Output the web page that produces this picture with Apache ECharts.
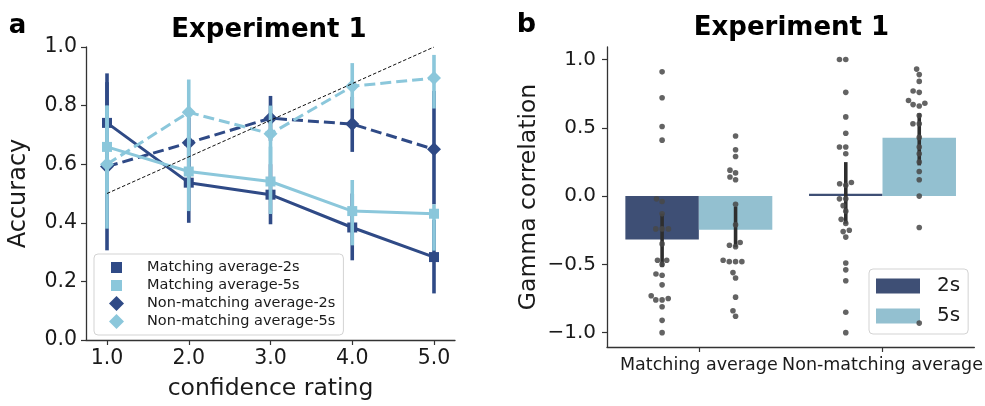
<!DOCTYPE html>
<html><head><meta charset="utf-8">
<script src="https://cdn.jsdelivr.net/npm/echarts@6/dist/echarts.min.js"></script>
<style>html,body{margin:0;padding:0;background:#fff}#c{width:985px;height:406px}</style>
</head><body><div id="c"></div>
<script>
// ---------- panel a data ----------
const confidence = [1, 2, 3, 4, 5];
const xTicksA = [1, 2, 3, 4, 5];
const seriesNamesA = ['Matching average-2s', 'Matching average-5s', 'Non-matching average-2s', 'Non-matching average-5s'];
const match2s      = [0.741, 0.537, 0.496, 0.384, 0.283];
const match2sLo    = [0.57, 0.40, 0.395, 0.272, 0.159];
const match2sHi    = [0.91, 0.68, 0.60, 0.50, 0.41];
const match5s      = [0.659, 0.575, 0.541, 0.440, 0.431];
const match5sLo    = [0.50, 0.44, 0.43, 0.323, 0.305];
const match5sHi    = [0.80, 0.70, 0.66, 0.546, 0.463];
const nonmatch2s   = [0.592, 0.673, 0.757, 0.737, 0.651];
const nonmatch2sLo = [0.306, 0.58, 0.68, 0.642, 0.463];
const nonmatch2sHi = [0.88, 0.76, 0.833, 0.83, 0.85];
const nonmatch5s   = [0.600, 0.777, 0.704, 0.866, 0.894];
const nonmatch5sLo = [0.38, 0.67, 0.60, 0.79, 0.79];
const nonmatch5sHi = [0.80, 0.889, 0.80, 0.945, 0.973];
const diagonalX = [1, 5];
const diagonalY = [0.5, 1.0];

// ---------- panel b data ----------
const categoriesB = ['Matching average', 'Non-matching average'];
const durations = ['2s', '5s'];
const yTicksB = [-1, -0.5, 0, 0.5, 1];
const barMean2s = [-0.317, 0.017];
const barMean5s = [-0.246, 0.427];
const ci2sLo = [-0.52, -0.202];
const ci2sHi = [-0.129, 0.249];
const ci5sLo = [-0.375, 0.225];
const ci5sHi = [-0.076, 0.607];
const gammaMatch2s = [0.91, 0.72, 0.51, 0.41, -0.02, -0.04, -0.13, -0.24, -0.24, -0.24, -0.35, -0.47, -0.47, -0.50, -0.57, -0.58, -0.65, -0.73, -0.75, -0.76, -0.76, -0.81, -0.91, -1.0];
const gammaMatch5s = [0.44, 0.34, 0.29, 0.19, 0.17, 0.14, 0.12, -0.06, -0.21, -0.34, -0.36, -0.37, -0.47, -0.48, -0.48, -0.48, -0.56, -0.60, -0.74, -0.84, -0.88];
const gammaNonmatch2s = [1.0, 1.0, 0.76, 0.58, 0.46, 0.36, 0.36, 0.31, 0.10, 0.09, 0.08, -0.02, -0.02, -0.07, -0.11, -0.17, -0.20, -0.25, -0.26, -0.30, -0.49, -0.54, -0.62, -0.85, -1.0];
const gammaNonmatch5s = [0.93, 0.89, 0.84, 0.77, 0.76, 0.70, 0.68, 0.67, 0.66, 0.59, 0.53, 0.53, 0.43, 0.36, 0.31, 0.25, 0.18, 0.12, 0.0, -0.23, -0.93];

// ---------- styling ----------
const FONT = 'DejaVu Sans';
const TXT = '#1a1a1a';
const AX = '#333333';
const DARK_A = '#2f4a86', LIGHT_A = '#8bc7db';
const DARK_B = '#3e4f75', LIGHT_B = '#93c0d0';
const DOT_R = 2.8, DOT_D = 6;
const SQUARE_ICON = 'path://M0,0M15,15M2,2L13,2L13,13L2,13Z';
const DIAMOND_ICON = 'path://M7.5,0L15,7.5L7.5,15L0,7.5Z';

function errSeries(lo, hi, color, z) {
  return {
    type: 'custom', xAxisIndex: 0, yAxisIndex: 0, z: z, silent: true,
    encode: { x: 0, y: [1, 2] },
    data: confidence.map((x, i) => [x, lo[i], hi[i]]),
    renderItem: function (params, api) {
      const a = api.coord([api.value(0), api.value(1)]);
      const b = api.coord([api.value(0), api.value(2)]);
      return { type: 'line', shape: { x1: a[0], y1: a[1], x2: b[0], y2: b[1] },
        style: { stroke: color, lineWidth: 3.6 } };
    }
  };
}
function lineSeries(name, vals, color, symbol, size, dashed, z) {
  return {
    type: 'line', name: name, xAxisIndex: 0, yAxisIndex: 0, z: z,
    data: confidence.map((x, i) => [x, vals[i]]),
    symbol: symbol, symbolSize: size, showSymbol: true,
    lineStyle: { color: color, width: 3, type: dashed ? [11, 5] : 'solid' },
    itemStyle: { color: color, borderWidth: 0 },
    emphasis: { disabled: true }
  };
}
function barErrSeries(grp, lo, hi) {
  return {
    type: 'custom', xAxisIndex: 1, yAxisIndex: 1, z: 4, silent: true,
    encode: { x: 0, y: [1, 2] },
    data: categoriesB.map((c, i) => [i, lo[i], hi[i]]),
    renderItem: function (params, api) {
      const band = api.size([1, 0])[0];
      const x = api.coord([api.value(0), 0])[0] + (grp === 0 ? -0.2 : 0.2) * band;
      const y1 = api.coord([api.value(0), api.value(1)])[1];
      const y2 = api.coord([api.value(0), api.value(2)])[1];
      return { type: 'line', shape: { x1: x, y1: y1, x2: x, y2: y2 },
        style: { stroke: '#2e2e2e', lineWidth: 3.6 } };
    }
  };
}
function beeswarm(ys, d) {
  const n = ys.length;
  const idx = ys.map((_, i) => i).sort((a, b) => ys[b] - ys[a]);
  const placed = [];
  const offs = new Array(n).fill(0);
  idx.forEach(i => {
    const y = ys[i];
    const nb = placed.filter(p => Math.abs(p.y - y) < d);
    const cands = [0];
    let leftFirst = true;
    nb.forEach(p => {
      const dx = Math.sqrt(Math.max(d * d - (y - p.y) * (y - p.y), 0)) * 1.05;
      const l = p.x - dx, r = p.x + dx;
      if (leftFirst) cands.push(l, r); else cands.push(r, l);
      leftFirst = !leftFirst;
    });
    const sorted = cands.map((c, k) => [c, k]).sort((a, b) => (Math.abs(a[0]) - Math.abs(b[0])) || (a[1] - b[1]));
    let x = 0;
    for (const s of sorted) {
      const c = s[0];
      if (nb.every(p => (p.x - c) * (p.x - c) + (p.y - y) * (p.y - y) >= d * d * 0.999)) { x = c; break; }
    }
    placed.push({ x: x, y: y });
    offs[i] = x;
  });
  return offs;
}
function swarmSeries(cat, grp, values) {
  return {
    type: 'custom', xAxisIndex: 1, yAxisIndex: 1, z: 6, silent: true,
    encode: { x: 0, y: 1 },
    data: values.map(v => [cat, v]),
    renderItem: function (params, api) {
      const band = api.size([1, 0])[0];
      const cx = api.coord([cat, 0])[0] + (grp === 0 ? -0.2 : 0.2) * band;
      const ys = values.map(v => api.coord([cat, v])[1]);
      const offs = beeswarm(ys, DOT_D);
      const i = params.dataIndex;
      return { type: 'circle', shape: { cx: cx + offs[i], cy: ys[i], r: DOT_R },
        style: { fill: 'rgba(72,72,72,0.85)' } };
    }
  };
}

const axisLineStyle = { show: true, onZero: false, lineStyle: { color: AX, width: 1.3 } };
const tickStyle = { color: AX, width: 1.2 };

const option = {
  animation: false,
  backgroundColor: '#ffffff',
  textStyle: { fontFamily: FONT },
  grid: [
    { left: 86, top: 47, width: 369, height: 297 },
    { left: 607, top: 47, width: 371, height: 300 }
  ],
  xAxis: [
    {
      gridIndex: 0, type: 'value', min: 0.743, max: 5.257,
      name: 'confidence rating', nameLocation: 'middle', nameGap: 37,
      nameTextStyle: { fontSize: 23.5, color: TXT, fontFamily: FONT },
      axisLine: axisLineStyle,
      axisTick: { show: true, length: 5, customValues: xTicksA, lineStyle: tickStyle },
      axisLabel: { customValues: xTicksA, formatter: v => Number(v).toFixed(1), fontSize: 20.5, color: TXT, margin: 8, fontFamily: FONT },
      splitLine: { show: false }
    },
    {
      gridIndex: 1, type: 'category', data: categoriesB,
      axisLine: axisLineStyle,
      axisTick: { show: true, length: 5, alignWithLabel: true, lineStyle: tickStyle },
      axisLabel: { interval: 0, fontSize: 17.5, color: TXT, margin: 9, fontFamily: FONT },
      splitLine: { show: false }
    }
  ],
  yAxis: [
    {
      gridIndex: 0, type: 'value', min: 0, max: 1, interval: 0.2,
      name: 'Accuracy', nameLocation: 'middle', nameGap: 55, nameRotate: 90,
      nameTextStyle: { fontSize: 24, color: TXT, fontFamily: FONT },
      axisLine: axisLineStyle,
      axisTick: { show: true, length: 5, lineStyle: tickStyle },
      axisLabel: { formatter: v => Number(v).toFixed(1), fontSize: 20.5, color: TXT, margin: 9, fontFamily: FONT },
      splitLine: { show: false }
    },
    {
      gridIndex: 1, type: 'value', min: -1.105, max: 1.092,
      name: 'Gamma correlation', nameLocation: 'middle', nameGap: 66, nameRotate: 90,
      nameTextStyle: { fontSize: 23.5, color: TXT, fontFamily: FONT },
      axisLine: axisLineStyle,
      axisTick: { show: true, length: 5, customValues: yTicksB, lineStyle: tickStyle },
      axisLabel: { customValues: yTicksB, formatter: v => (v < -1e-9 ? '\u2212' : '') + Math.abs(v).toFixed(1), fontSize: 20, color: TXT, margin: 11, fontFamily: FONT },
      splitLine: { show: false }
    }
  ],
  legend: [
    {
      left: 94, top: 254, orient: 'vertical', selectedMode: false,
      itemWidth: 15, itemHeight: 15, itemGap: 3,
      padding: [6, 8, 6, 15],
      borderColor: '#d3d3d3', borderWidth: 1, borderRadius: 4,
      backgroundColor: 'rgba(255,255,255,0.8)',
      textStyle: { fontSize: 14.5, color: TXT, fontFamily: FONT, padding: [0, 0, 0, 18] },
      data: [
        { name: seriesNamesA[0], icon: SQUARE_ICON },
        { name: seriesNamesA[1], icon: SQUARE_ICON },
        { name: seriesNamesA[2], icon: DIAMOND_ICON },
        { name: seriesNamesA[3], icon: DIAMOND_ICON }
      ]
    },
    {
      left: 869, top: 269, orient: 'vertical', selectedMode: false,
      itemWidth: 44, itemHeight: 15, itemGap: 10,
      padding: [7, 8, 8, 7],
      borderColor: '#d3d3d3', borderWidth: 1, borderRadius: 4,
      backgroundColor: 'rgba(255,255,255,0.8)',
      textStyle: { fontSize: 20, color: TXT, fontFamily: FONT, padding: [0, 0, 0, 12] },
      data: [{ name: durations[0], icon: 'rect' }, { name: durations[1], icon: 'rect' }]
    }
  ],
  graphic: [
    { type: 'text', x: 17.5, y: 26, style: { text: 'a', font: 'bold 26px "DejaVu Sans"', fill: '#000', align: 'center', verticalAlign: 'middle' } },
    { type: 'text', x: 269, y: 30, style: { text: 'Experiment 1', font: 'bold 26px "DejaVu Sans"', fill: '#000', align: 'center', verticalAlign: 'middle' } },
    { type: 'text', x: 526.5, y: 25, style: { text: 'b', font: 'bold 27px "DejaVu Sans"', fill: '#000', align: 'center', verticalAlign: 'middle' } },
    { type: 'text', x: 791.5, y: 28, style: { text: 'Experiment 1', font: 'bold 26px "DejaVu Sans"', fill: '#000', align: 'center', verticalAlign: 'middle' } }
  ],
  series: [
    // panel a: dark (2s) first, light (5s) on top
    lineSeries(seriesNamesA[0], match2s, DARK_A, 'rect', 10, false, 3),
    errSeries(match2sLo, match2sHi, DARK_A, 4),
    lineSeries(seriesNamesA[2], nonmatch2s, DARK_A, 'diamond', 14, true, 5),
    errSeries(nonmatch2sLo, nonmatch2sHi, DARK_A, 6),
    lineSeries(seriesNamesA[1], match5s, LIGHT_A, 'rect', 10, false, 7),
    errSeries(match5sLo, match5sHi, LIGHT_A, 8),
    lineSeries(seriesNamesA[3], nonmatch5s, LIGHT_A, 'diamond', 14, true, 9),
    errSeries(nonmatch5sLo, nonmatch5sHi, LIGHT_A, 10),
    {
      type: 'line', name: 'diagonal', xAxisIndex: 0, yAxisIndex: 0, z: 12, silent: true,
      data: diagonalX.map((x, i) => [x, diagonalY[i]]),
      symbol: 'none', lineStyle: { color: '#111', width: 1, type: [3.5, 2] }
    },
    // panel b
    { type: 'bar', name: durations[0], xAxisIndex: 1, yAxisIndex: 1, z: 2, data: barMean2s,
      barGap: '0%', barCategoryGap: '20%', itemStyle: { color: DARK_B }, emphasis: { disabled: true } },
    { type: 'bar', name: durations[1], xAxisIndex: 1, yAxisIndex: 1, z: 2, data: barMean5s,
      barGap: '0%', barCategoryGap: '20%', itemStyle: { color: LIGHT_B }, emphasis: { disabled: true } },
    barErrSeries(0, ci2sLo, ci2sHi),
    barErrSeries(1, ci5sLo, ci5sHi),
    swarmSeries(0, 0, gammaMatch2s),
    swarmSeries(0, 1, gammaMatch5s),
    swarmSeries(1, 0, gammaNonmatch2s),
    swarmSeries(1, 1, gammaNonmatch5s)
  ]
};
const chart = echarts.init(document.getElementById('c'), null, { renderer: 'canvas' });
chart.setOption(option);
</script>
</body></html>
